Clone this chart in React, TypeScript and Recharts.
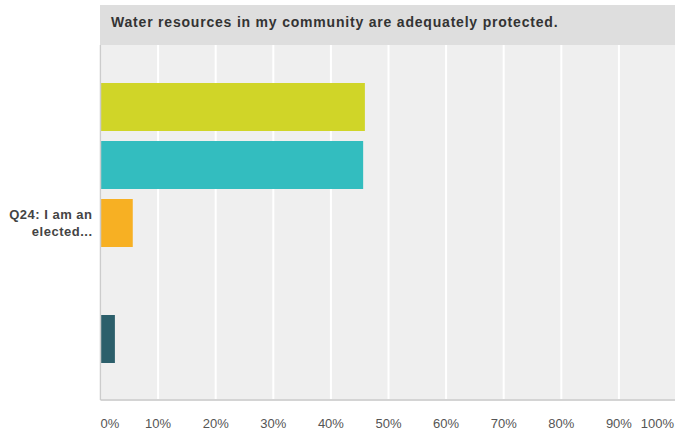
import React from "react";
import { BarChart, Bar, XAxis, YAxis, CartesianGrid } from "recharts";

const title = "Water resources in my community are adequately protected.";
const categories = ["Q24: I am an elected..."];
const categoryLines = [["Q24: I am an", "elected..."]];
const seriesKeys = ["s1", "s2", "s3", "s4", "s5"];
const seriesColors = ["#d0d528", "#33bdbf", "#f7b023", "#8e8e8e", "#2c5f6b"];
const s1Values = [45.9];
const s2Values = [45.6];
const s3Values = [5.6];
const s4Values = [0];
const s5Values = [2.5];
const xTicks = [0, 10, 20, 30, 40, 50, 60, 70, 80, 90, 100];

const data = categories.map((name, i) => ({
  name,
  s1: s1Values[i],
  s2: s2Values[i],
  s3: s3Values[i],
  s4: s4Values[i],
  s5: s5Values[i],
}));

const FONT = "'Liberation Sans', Arial, sans-serif";

const XTick = (props: any) => {
  const { x, y, payload } = props;
  const v = payload.value;
  let anchor: "start" | "middle" | "end" = "middle";
  let tx = x;
  if (v === 0) {
    anchor = "start";
  } else if (v === 100) {
    anchor = "end";
    tx = x - 2.5;
  }
  return (
    <text x={tx} y={y} dy={20} textAnchor={anchor} fill="#555" fontSize={13} fontFamily={FONT}>
      {`${v}%`}
    </text>
  );
};

const YTick = (props: any) => {
  const { x, y, index } = props;
  const lines = categoryLines[index] || [];
  return (
    <text x={x} y={y} textAnchor="end" fill="#444" fontSize={13} fontWeight="bold" fontFamily={FONT} letterSpacing={0.5}>
      {lines.map((l, i) => (
        <tspan key={i} x={x} dy={i === 0 ? -4 : 17}>
          {l}
        </tspan>
      ))}
    </text>
  );
};

export default function App() {
  return (
    <div style={{ position: "absolute", left: 0, top: 0, width: 675, height: 432, overflow: "hidden", background: "#fff" }}>
      <div
        style={{
          position: "absolute",
          left: 100,
          top: 5,
          width: 575,
          height: 40,
          background: "#dedede",
        }}
      />
      <div
        style={{
          position: "absolute",
          left: 111,
          top: 5,
          height: 40,
          lineHeight: "34px",
          fontFamily: FONT,
          fontWeight: "bold",
          fontSize: 14,
          letterSpacing: "0.8px",
          color: "#333",
          whiteSpace: "nowrap",
        }}
      >
        {title}
      </div>
      <div style={{ position: "absolute", left: 0, top: 0 }}>
        <BarChart
          width={677}
          height={432}
          data={data}
          layout="vertical"
          margin={{ top: 45, right: 0.5, bottom: 0, left: 0 }}
          barGap={10}
          barSize={48}
        >
          <CartesianGrid horizontal={false} vertical={true} stroke="#ffffff" strokeWidth={2} fill="#efefef" />
          <XAxis
            type="number"
            domain={[0, 100]}
            ticks={xTicks}
            interval={0}
            height={32}
            axisLine={{ stroke: "#d4d4d4", strokeWidth: 2 }}
            tickLine={false}
            tick={<XTick />}
          />
          <YAxis
            type="category"
            dataKey="name"
            width={100.5}
            axisLine={{ stroke: "#cccccc", strokeWidth: 1.5 }}
            tickLine={false}
            tick={<YTick />}
          />
          {seriesKeys.map((k, i) => (
            <Bar key={k} dataKey={k} fill={seriesColors[i]} isAnimationActive={false} />
          ))}
        </BarChart>
      </div>
    </div>
  );
}
